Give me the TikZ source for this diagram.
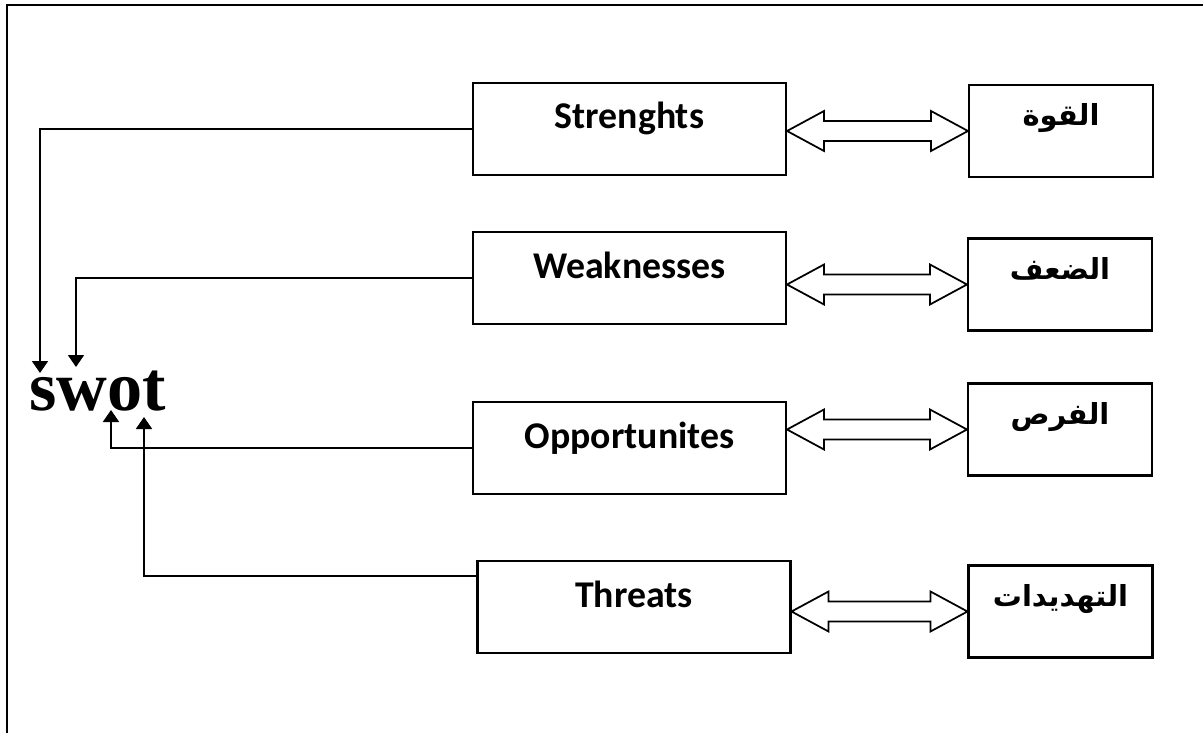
\documentclass[tikz,border=0pt]{standalone}
\usepackage{fontspec}
\usepackage{tikz}
\usetikzlibrary{arrows.meta}
\usetikzlibrary{calc}
\newfontfamily\labelfont{Carlito}
\newfontfamily\swotfont{Liberation Serif}[BoldFont={Liberation Serif Bold}]
\newfontfamily\arabicfont[Script=Arabic]{DejaVu Sans}
\TeXXeTstate=1

\begin{document}
\begin{tikzpicture}[x=0.02cm, y=-0.02cm,
        engbox/.style={draw, line width=1.2pt, inner sep=0pt, minimum width=6.26cm,
            text height=0.92cm, text depth=0.92cm, font=\labelfont\bfseries\fontsize{21.5}{25}\selectfont},
        arbbox/.style={draw, line width=1.2pt, inner sep=0pt, minimum width=3.68cm,
            text height=0.82cm, text depth=1.02cm, font=\arabicfont\bfseries\fontsize{16.5}{20}\selectfont},
        feed/.style={line width=1pt, -{Triangle[length=0.24cm, width=0.32cm]}},
        fatarrow/.style={line width=1pt, line join=miter, to path={
            -- ($(\tikztostart)+(37,-20)$) -- ($(\tikztostart)+(37,-10)$)
            -- ($(\tikztotarget)+(-37,-10)$) -- ($(\tikztotarget)+(-37,-20)$)
            -- (\tikztotarget)
            -- ($(\tikztotarget)+(-37,20)$) -- ($(\tikztotarget)+(-37,10)$)
            -- ($(\tikztostart)+(37,10)$) -- ($(\tikztostart)+(37,20)$) -- cycle}}]
    \useasboundingbox (0,0) rectangle (1203,733);
    \draw[line width=1.2pt] (7,733) -- (7,5) -- (1203,5); % frame

    % English boxes
    \node[engbox] (str) at (629.5,129) {Strenghts};
    \node[engbox] (wek) at (629.5,278) {Weaknesses};
    \node[engbox] (opp) at (629.5,448) {Opportunites};
    \node[engbox] (thr) at (634,607) {Threats};

    % Arabic boxes
    \node[arbbox] (qwa) at (1061,131) {\beginR القوة\endR};
    \node[arbbox] (daf) at (1060,284.5) {\beginR الضعف\endR};
    \node[arbbox] (frs) at (1060,429.5) {\beginR الفرص\endR};
    \node[arbbox] (thd) at (1060.5,611.5) {\beginR التهديدات\endR};

    % double arrows
    \draw[fatarrow] (str.east |- qwa.west) to (qwa.west);
    \draw[fatarrow] (wek.east |- daf.west) to (daf.west);
    \draw[fatarrow] (opp.east |- frs.west) to (frs.west);
    \draw[fatarrow] (thr.east |- thd.west) to (thd.west);

    % swot
    \node[anchor=base west, inner sep=0pt, font=\swotfont\bfseries\fontsize{40}{48}\selectfont] (swot) at (29,410) {swot};
    \coordinate (sIn) at (40,373);
    \coordinate (wIn) at (76,367);
    \coordinate (oIn) at (111,410);
    \coordinate (tIn) at (144,417);

    \draw[feed] (str.west) -| (sIn);
    \draw[feed] (wek.west) -| (wIn);
    \draw[feed] (opp.west) -| (oIn);
    \draw[feed] ([yshift=0.62cm]thr.west) -| (tIn);
\end{tikzpicture}
\end{document}
